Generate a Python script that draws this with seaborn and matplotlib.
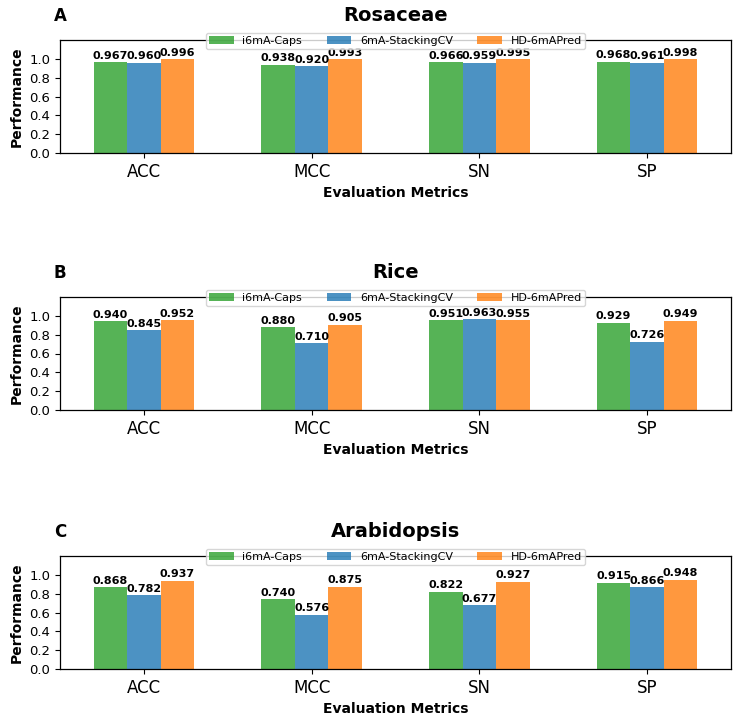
import pandas as pd
import matplotlib
matplotlib.use("Agg")
import matplotlib.pyplot as plt
import seaborn as sns

# data
metrics = ["ACC", "MCC", "SN", "SP"]
models = ["i6mA-Caps", "6mA-StackingCV", "HD-6mAPred"]
species = ["Rosaceae", "Rice", "Arabidopsis"]
panel_letters = ["A", "B", "C"]

rosaceae_caps = [0.967, 0.938, 0.966, 0.968]
rosaceae_stacking = [0.960, 0.920, 0.959, 0.961]
rosaceae_hd = [0.996, 0.993, 0.995, 0.998]

rice_caps = [0.940, 0.880, 0.951, 0.929]
rice_stacking = [0.845, 0.710, 0.963, 0.726]
rice_hd = [0.952, 0.905, 0.955, 0.949]

arabidopsis_caps = [0.868, 0.740, 0.822, 0.915]
arabidopsis_stacking = [0.782, 0.576, 0.677, 0.866]
arabidopsis_hd = [0.937, 0.875, 0.927, 0.948]

values = {
    "Rosaceae": [rosaceae_caps, rosaceae_stacking, rosaceae_hd],
    "Rice": [rice_caps, rice_stacking, rice_hd],
    "Arabidopsis": [arabidopsis_caps, arabidopsis_stacking, arabidopsis_hd],
}

colors = ["#2ca02c", "#1f77b4", "#ff7f0e"]

sns.set_style("ticks", {
    "text.color": "black",
    "axes.labelcolor": "black",
    "xtick.color": "black",
    "ytick.color": "black",
    "axes.edgecolor": "black",
})
plt.rcParams["font.family"] = ["DejaVu Sans"]

fig = plt.figure(figsize=(7.38, 7.2), dpi=100)

# axes rectangles (left, bottom, width, height) in figure fractions
left, width, height = 60 / 738, 671 / 738, 113 / 720
bottoms = [1 - 153 / 720, 1 - 410 / 720, 1 - 669 / 720]

for name, letter, bottom in zip(species, panel_letters, bottoms):
    ax = fig.add_axes([left, bottom, width, height])
    rows = []
    for model, series in zip(models, values[name]):
        for metric, v in zip(metrics, series):
            rows.append({"Metric": metric, "Model": model, "Performance": v})
    df = pd.DataFrame(rows)

    sns.barplot(
        data=df, x="Metric", y="Performance", hue="Model",
        hue_order=models, order=metrics, palette=colors,
        width=0.6, gap=0, saturation=1, alpha=0.8,
        linewidth=0, errorbar=None, ax=ax,
    )

    for c in ax.containers:
        ax.bar_label(c, fmt="%.3f", fontsize=8, fontweight="bold",
                     padding=1, color="black")

    ax.set_ylim(0, 1.2)
    ax.set_yticks([0.0, 0.2, 0.4, 0.6, 0.8, 1.0])
    ax.tick_params(axis="y", labelsize=9.5)
    ax.tick_params(axis="x", labelsize=12)
    for s in ax.spines.values():
        s.set_linewidth(0.9)

    ax.set_title(name, fontsize=14, fontweight="bold", pad=14)
    ax.annotate(letter, xy=(0, 1), xycoords="axes fraction",
                xytext=(0, 14), textcoords="offset points",
                ha="center", va="baseline", fontsize=12, fontweight="bold")
    ax.set_ylabel("Performance", fontsize=10, fontweight="bold")
    ax.set_xlabel("Evaluation Metrics", fontsize=10, fontweight="bold")

    ax.legend(loc="upper center", bbox_to_anchor=(0.5, 1.115), ncol=3,
              fontsize=8, frameon=True, borderpad=0.3,
              handlelength=2.2, columnspacing=2.2)

fig.savefig("out.png", dpi=100)
